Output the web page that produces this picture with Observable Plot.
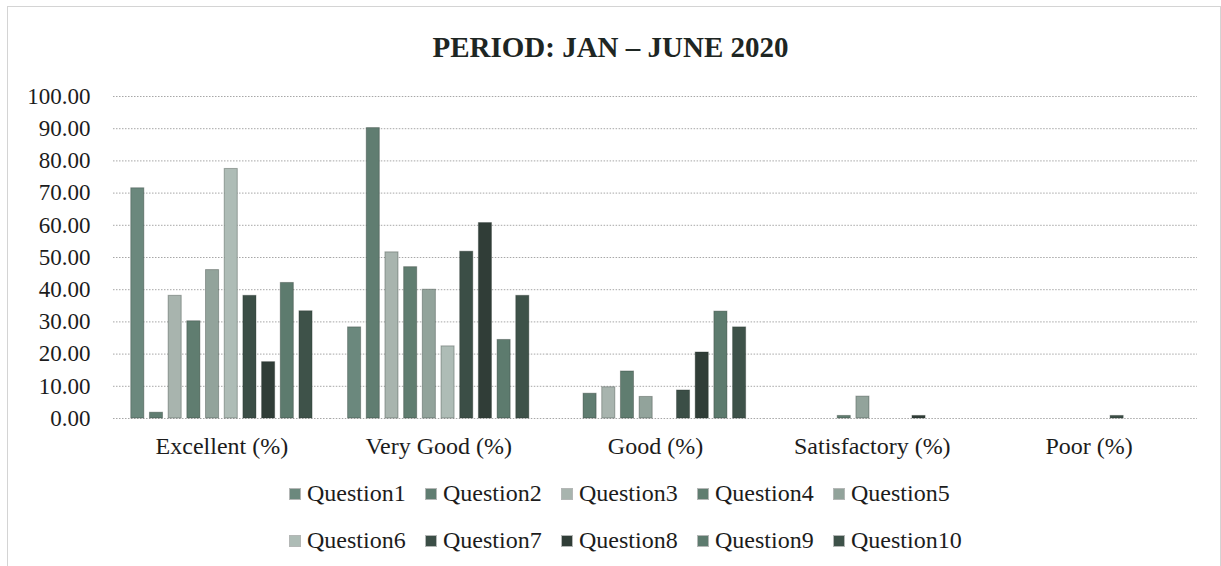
<!DOCTYPE html>
<html>
<head>
<meta charset="utf-8">
<script src="https://cdn.jsdelivr.net/npm/d3@7"></script>
<script src="https://cdn.jsdelivr.net/npm/@observablehq/plot@0.6"></script>
<style>
  html, body { margin: 0; padding: 0; background: #fff; }
  body { width: 1221px; height: 566px; overflow: hidden; position: relative;
         font-family: "Liberation Serif", "Times New Roman", serif; color: #1c1c1c; }
  #frame { position: absolute; left: 7px; top: 6px; width: 1212px; height: 600px;
           border: 1px solid #d4d4d4; pointer-events: none; }
  #title { margin: 0; padding-top: 30px; height: 40px; line-height: 34px; text-align: center;
           font-size: 29px; font-weight: bold; color: #1e2623; }
  #chart svg { display: block; }
  #legend { display: grid; grid-template-columns: repeat(5, 136px); margin-left: 290px; }
  .item { height: 47px; line-height: 47px; font-size: 24px; white-space: nowrap; }
  .sw { display: inline-block; width: 10px; height: 10px; margin-right: 7px; vertical-align: 2px;
        outline: 1px solid rgba(40,50,46,0.35); }
</style>
</head>
<body>
<div id="frame"></div>
<div id="title">PERIOD: JAN – JUNE 2020</div>
<div id="chart"></div>
<div id="legend"></div>
<script>
const categories = ["Excellent (%)", "Very Good (%)", "Good (%)", "Satisfactory (%)", "Poor (%)"];
const questions = ["Question1", "Question2", "Question3", "Question4", "Question5",
                   "Question6", "Question7", "Question8", "Question9", "Question10"];
// values per question, in category order
const q1  = [71.5, 28.3, 0,    0,   0];
const q2  = [1.8,  90.2, 7.7,  0,   0];
const q3  = [38.1, 51.6, 9.7,  0,   0];
const q4  = [30.2, 47.0, 14.6, 0.8, 0];
const q5  = [46.1, 40.0, 6.7,  6.8, 0];
const q6  = [77.5, 22.4, 0,    0,   0];
const q7  = [38.1, 51.8, 8.7,  0,   0.8];
const q8  = [17.5, 60.7, 20.5, 0.8, 0];
const q9  = [42.1, 24.4, 33.2, 0,   0];
const q10 = [33.3, 38.1, 28.3, 0,   0];
const yTicks = [0, 10, 20, 30, 40, 50, 60, 70, 80, 90, 100];
const palette = ["#6b887d", "#607d71", "#a8b4ae", "#607d70", "#92a39b",
                 "#aebcb6", "#3b4e46", "#303d37", "#5d7b6e", "#3e5249"];

const series = [q1, q2, q3, q4, q5, q6, q7, q8, q9, q10];
const data = [];
series.forEach((vals, i) => vals.forEach((v, j) => {
  if (v > 0) data.push({question: questions[i], category: categories[j], value: v});
}));

const chart = Plot.plot({
  width: 1221,
  height: 400,
  marginLeft: 113,
  marginRight: 24,
  marginTop: 26,
  marginBottom: 52,
  style: {fontFamily: "'Liberation Serif', 'Times New Roman', serif", color: "#1c1c1c", background: "transparent"},
  fx: {domain: categories, paddingInner: 0, paddingOuter: 0, round: false, label: null},
  x: {domain: questions, paddingInner: 0.3, paddingOuter: 0.95, round: false, axis: null},
  y: {domain: [0, 100], label: null},
  color: {domain: questions, range: palette},
  marks: [
    Plot.gridY(yTicks, {stroke: "#8a8a8a", strokeOpacity: 0.75, strokeDasharray: "1.5,1.5"}),
    Plot.barY(data, {fx: "category", x: "question", y: "value", fill: "question",
                     stroke: "#26302c", strokeOpacity: 0.35, strokeWidth: 1}),
    Plot.axisY(yTicks, {tickSize: 0, tickPadding: 23, tickFormat: d3.format(".2f"), fontSize: 23, label: null}),
    Plot.axisFx({anchor: "bottom", tickSize: 0, tickPadding: 18, fontSize: 24, label: null})
  ]
});
document.getElementById("chart").appendChild(chart);

const legend = document.getElementById("legend");
questions.forEach((q, i) => {
  const item = document.createElement("div");
  item.className = "item";
  const sw = document.createElement("span");
  sw.className = "sw";
  sw.style.background = palette[i];
  item.appendChild(sw);
  item.appendChild(document.createTextNode(q));
  legend.appendChild(item);
});
</script>
</body>
</html>
